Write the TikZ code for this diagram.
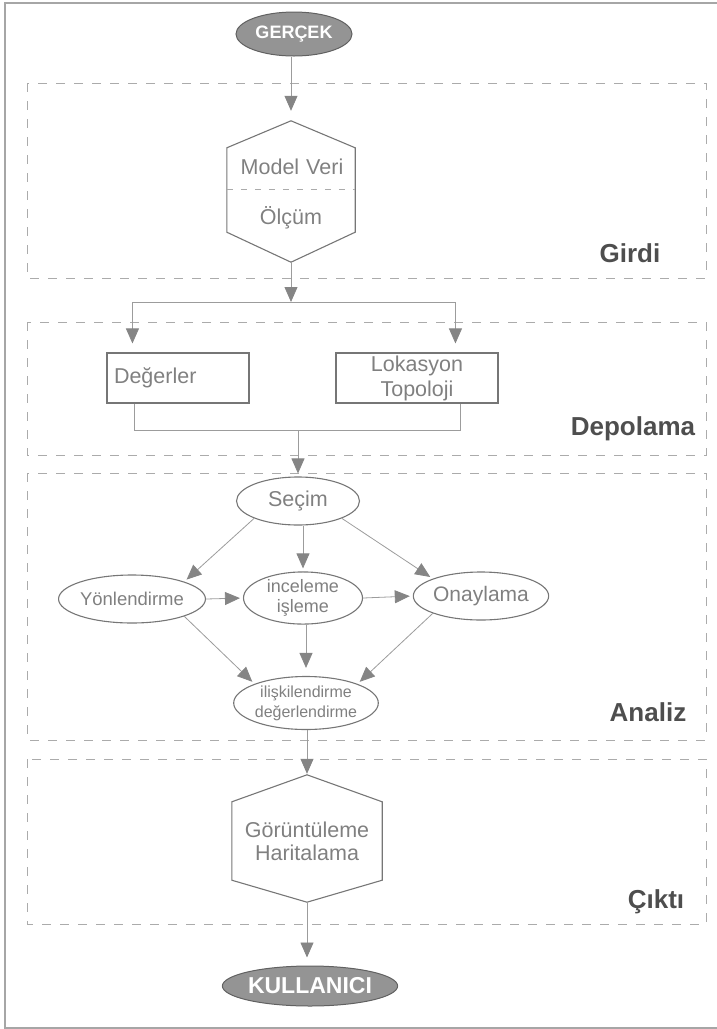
\documentclass[tikz,border=0pt]{standalone}
\usepackage{fontspec}
\setmainfont{Liberation Sans}
\usetikzlibrary{arrows.meta,calc,shapes.geometric}
\definecolor{txt}{HTML}{808080}
\definecolor{lbl}{HTML}{4E4E4E}
\definecolor{edge}{HTML}{767676}
\definecolor{connc}{HTML}{9C9C9C}
\definecolor{dashc}{HTML}{ABABAB}
\definecolor{tipc}{HTML}{858585}
\begin{document}
\begin{tikzpicture}[x=1pt,y=-1pt,
  panel/.style={draw=dashc, line width=0.8pt, dash pattern=on 9pt off 9pt},
  divl/.style={draw=dashc, line width=0.8pt, dash pattern=on 6pt off 8pt},
  conn/.style={draw=connc, line width=0.8pt, shorten >=3pt, -{Triangle[width=13pt,length=15pt,fill=tipc,color=tipc]}},
  plain/.style={draw=connc, line width=0.8pt},
  hexline/.style={draw=edge, line width=1.1pt, line join=miter},
  ell/.style={ellipse, draw=edge, line width=1.1pt, inner sep=0pt, text=txt, align=center},
  boxn/.style={rectangle, draw=edge, line width=1.1pt, inner sep=0pt, text=txt},
  shapeonly/.style={rectangle, draw=none, inner sep=0pt},
  ttext/.style={inner sep=0pt, text=txt, align=center, font=\fontsize{21.5}{23}\selectfont},
  term/.style={ellipse, draw=black!62, fill=black!42, line width=1pt, inner sep=0pt, text=white},
  lab/.style={inner sep=0pt, text=lbl, font=\bfseries\fontsize{26}{28}\selectfont}
]
\useasboundingbox (0,0) rectangle (717,1029);
% outer frame (left, top, bottom)
\draw[draw=black!35, line width=2pt] (717,3) -- (5,3) -- (5,1027.5) -- (717,1027.5);

% panels
\draw[panel] (27,83) rectangle (706,278);
\draw[panel] (27,322) rectangle (706,455);
\draw[panel] (27,473) rectangle (706,740);
\draw[panel] (27,759) rectangle (706,924);

% panel labels
\node[lab] (lgirdi) at (630,253) {Girdi};
\node[lab] (ldep) at (633,429) {Depolama};
\node[lab] (lana) at (648,712) {Analiz};
\node[lab] (lcik) at (656,902) {Çıktı};

% terminals
\node[term, minimum width=116, minimum height=44, font=\bfseries\fontsize{18}{20}\selectfont] (ger) at (294,34) {GERÇEK};
\node[term, minimum width=134, minimum height=40, font=\bfseries\fontsize{23}{24}\selectfont] (kul) at (310,986) {KULLANICI};

% hexagon 1 (input)
\node[shapeonly, minimum width=128, minimum height=141] (hexA) at (291,191.5) {};
\draw[hexline] (hexA.north) -- ($(hexA.north west)+(0,27)$) -- ($(hexA.south west)+(0,-30)$) -- (hexA.south) -- ($(hexA.south east)+(0,-30)$) -- ($(hexA.north east)+(0,27)$) -- cycle;
\draw[divl] ($(hexA.west)+(0,-2.5)$) -- ($(hexA.east)+(0,-2.5)$);
\node[ttext] (mv) at (292,167) {Model\hspace{7pt}Veri};
\node[ttext] (olc) at (291,218) {Ölçüm};

% storage boxes
\node[boxn, minimum height=50, text width=128pt, inner xsep=7pt, align=left, font=\fontsize{21.5}{23}\selectfont] (deg) at (178,378) {Değerler};
\node[boxn, minimum width=162, minimum height=50, align=center, font=\fontsize{21.5}{25}\selectfont] (lok) at (417,378) {Lokasyon\\Topoloji};

% analysis ellipses
\node[ell, minimum width=123, minimum height=48, font=\fontsize{21.5}{24}\selectfont] (sec) at (298,501) {Seçim};
\node[ell, minimum width=120, minimum height=48, font=\fontsize{18.5}{22}\selectfont] (yon) at (132,599) {Yönlendirme};
\node[ell, minimum width=119, minimum height=47, font=\fontsize{18}{20}\selectfont] (inc) at (303,598) {inceleme\\işleme};
\node[ell, minimum width=122, minimum height=48, font=\fontsize{21}{24}\selectfont] (ona) at (481,596) {Onaylama};
\node[ell, minimum width=125, minimum height=53, font=\fontsize{16}{20}\selectfont] (ili) at (306,703) {ilişkilendirme\\değerlendirme};

% hexagon 2 (output)
\node[shapeonly, minimum width=150, minimum height=127] (hexB) at (307,838.5) {};
\draw[hexline] (hexB.north) -- ($(hexB.north west)+(0,27)$) -- ($(hexB.south west)+(0,-22)$) -- (hexB.south) -- ($(hexB.south east)+(0,-22)$) -- ($(hexB.north east)+(0,27)$) -- cycle;
\node[ttext] (gor) at (307,841) {Görüntüleme\\Haritalama};

% connectors
\draw[conn, shorten >=10pt] (ger.south -| hexA.north) -- (hexA.north);
\coordinate (sp) at (291,302);
\coordinate (dIn) at ($(deg.north west)+(26,0)$);
\coordinate (lIn) at ($(lok.north west)+(120,0)$);
\draw[conn, shorten >=0pt] (hexA.south) -- (sp);
\draw[plain] (dIn |- sp) -- (lIn |- sp);
\draw[conn, shorten >=9pt] (dIn |- sp) -- (dIn);
\draw[conn, shorten >=9pt] (lIn |- sp) -- (lIn);
\coordinate (dOut) at ($(deg.south west)+(28,0)$);
\coordinate (lOut) at ($(lok.south west)+(125,0)$);
\coordinate (mg) at (298,430);
\draw[plain] (dOut) -- (dOut |- mg) -- (lOut |- mg) -- (lOut);
\draw[conn] (mg) -- (sec.north);

\draw[conn] (sec.south west) -- (yon.north east);
\draw[conn] (sec.south -| inc.north) -- (inc.north);
\draw[conn] (sec.south east) -- (ona.north west);
\draw[conn] (yon.east) -- (inc.west);
\draw[conn] (inc.east) -- (ona.west);
\draw[conn, shorten >=8pt] (inc.south -| ili.north) -- (ili.north);
\draw[conn] (yon.south east) -- (ili.north west);
\draw[conn] (ona.south west) -- (ili.north east);
\draw[conn, shorten >=1pt] (ili.south -| hexB.north) -- (hexB.north);
\draw[conn, shorten >=8pt] (hexB.south) -- (hexB.south |- kul.north);
\end{tikzpicture}
\end{document}
